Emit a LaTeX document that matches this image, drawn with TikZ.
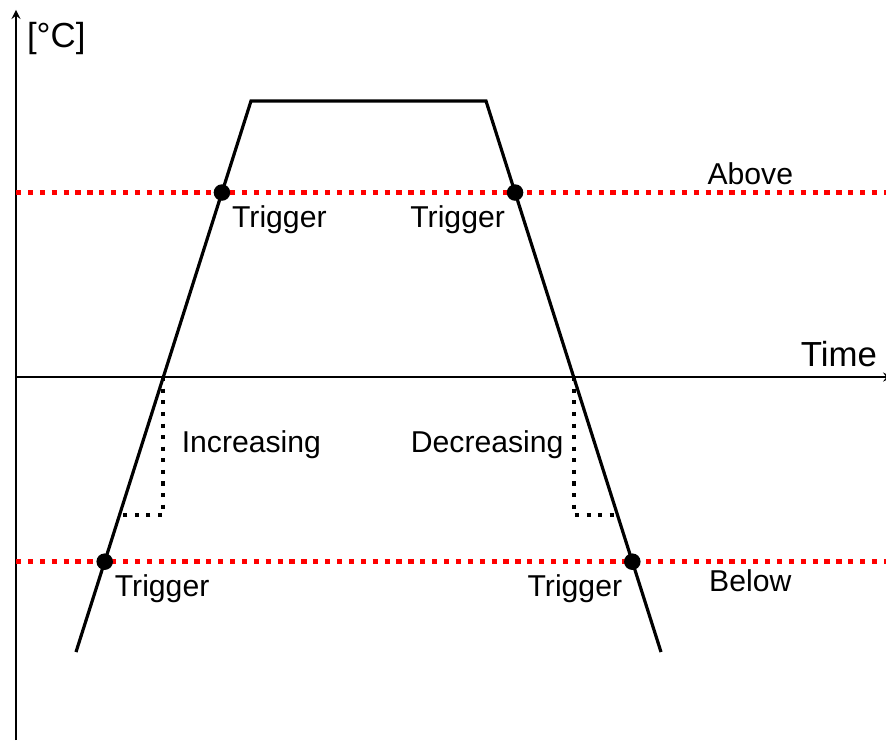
\documentclass[tikz,border=0pt]{standalone}
\usepackage{fontspec}
\setmainfont{Liberation Sans}
\usetikzlibrary{calc}
\tikzset{
	lbl/.style={font=\fontsize{10.4}{12}\selectfont},
	trig/.style={circle, fill=black, inner sep=0pt, minimum size=0.2cm},
	limit/.style={red, line width=1.8pt, dash pattern=on 1.8pt off 2.3pt},
	guide/.style={black, line width=1.4pt, dash pattern=on 1.4pt off 2.6pt},
}
\begin{document}
\begin{tikzpicture}[>=stealth]
		\useasboundingbox (-0.194, -4.4) rectangle (10.545, 4.57);
		% Оси
		\draw[->, thin] (0, -4.4) -- (0, 4.45);
		\draw[->, thin] (0, 0) -- (10.62, 0);
		\node[anchor=south east, font=\large] (time) at (10.56, 0) {Time};
		\node[anchor=west, font=\large] (unit) at (0.01, 4.1) {[°C]};
		
		% Пороги
		\draw[limit] (0, 2.236) -- (10.545, 2.236);
		\draw[limit] (0, -2.236) -- (10.545, -2.236);
		\node[lbl, above, yshift=-0.03cm] (above) at (8.9, 2.236) {Above};
		\node[lbl, below, yshift=0.02cm] (below) at (8.9, -2.236) {Below};
		
		% Профиль температуры
		\coordinate (lb) at (0.727, -3.333);
		\coordinate (lt) at (2.848, 3.345);
		\coordinate (rt) at (5.697, 3.345);
		\coordinate (rb) at (7.818, -3.333);
		\draw[line width=1.1pt] (lb) -- (lt) -- (rt) -- (rb);
		
		% Направление
		\coordinate (l0) at ($(lb)!0.499!(lt)$);
		\coordinate (l1) at ($(lb)!0.2486!(lt)$);
		\coordinate (r0) at ($(rb)!0.499!(rt)$);
		\coordinate (r1) at ($(rb)!0.2486!(rt)$);
		\draw[guide] (l0) -- (l0 |- l1) -- (l1);
		\draw[guide] (r0) -- (r0 |- r1) -- (r1);
		\node[lbl, right, xshift=0.1cm] (inc) at ($(l0)!0.49!(l0 |- l1)$) {Increasing};
		\node[lbl, left] (dec) at ($(r0)!0.49!(r0 |- r1)$) {Decreasing};
		
		% Срабатывания
		\node[trig] (t1) at ($(lb)!0.834!(lt)$) {};
		\node[trig] (t2) at ($(rb)!0.834!(rt)$) {};
		\node[trig] (t3) at ($(lb)!0.164!(lt)$) {};
		\node[trig] (t4) at ($(rb)!0.164!(rt)$) {};
		\node[lbl, below right, yshift=-0.03cm] (t1l) at (t1) {Trigger};
		\node[lbl, below left, yshift=-0.03cm] (t2l) at (t2) {Trigger};
		\node[lbl, below right, yshift=-0.03cm] (t3l) at (t3) {Trigger};
		\node[lbl, below left, yshift=-0.03cm] (t4l) at (t4) {Trigger};
	\end{tikzpicture}
\end{document}
